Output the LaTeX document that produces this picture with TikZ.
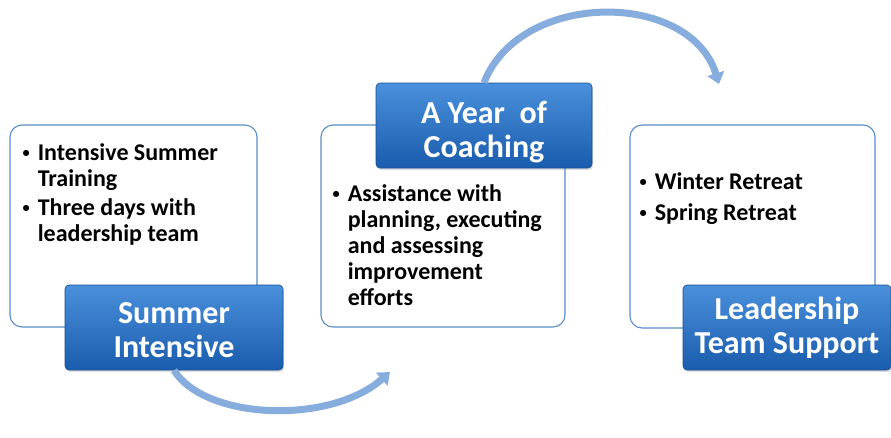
\documentclass[tikz,border=0pt]{standalone}
\usepackage{fontspec}
\setmainfont{Carlito}
\usetikzlibrary{arrows.meta,positioning,shadows}

\definecolor{labeltop}{HTML}{4A90DC}
\definecolor{labelbot}{HTML}{1A5CAD}
\definecolor{boxline}{HTML}{5A8CC8}
\definecolor{arrowblue}{HTML}{86ADDD}

\tikzset{
  infobox/.style={draw=boxline, line width=1.1pt, rounded corners=12pt, fill=white},
  infotext/.style={inner sep=0pt, font=\bfseries\fontsize{24}{26}\selectfont},
  stagelabel/.style={draw=labelbot!85!black, line width=0.6pt, rounded corners=4pt,
    top color=labeltop, bottom color=labelbot, text=white, align=center,
    font=\bfseries\fontsize{32}{34}\selectfont, minimum height=85pt,
    drop shadow={opacity=0.25, shadow xshift=1pt, shadow yshift=-2pt}},
  cyclearrow/.style={draw=arrowblue, line width=7pt, -{Triangle[width=17pt,length=11pt]}}
}

\newcommand{\bul}{\raisebox{3pt}{\scalebox{0.6}{\textbullet}}}
\newcommand{\labelstrut}[1]{\rule{0pt}{#1}}

\begin{document}
\begin{tikzpicture}[x=1pt,y=-1pt]
  \useasboundingbox (0,0) rectangle (891,437);
  % content boxes
  \node[infobox, minimum width=247pt, minimum height=202pt] (summerbox) at (133.5,226) {};
  \node[infobox, minimum width=244pt, minimum height=202pt] (coachbox) at (443,226) {};
  \node[infobox, minimum width=245pt, minimum height=203pt] (teambox) at (752.5,226.5) {};
  % bullet texts
  \node[infotext, below right=18pt and 13pt of summerbox.north west] (summertext) {%
    \begin{tabular}{@{}l@{\hspace{8pt}}l@{}}
      \bul & Intensive Summer\\
           & Training\\[3pt]
      \bul & Three days with\\
           & leadership team
    \end{tabular}};
  \node[infotext, below right=59pt and 12pt of coachbox.north west] (coachtext) {%
    \begin{tabular}{@{}l@{\hspace{8pt}}l@{}}
      \bul & Assistance with\\
           & planning, executing\\
           & and assessing\\
           & improvement\\
           & efforts
    \end{tabular}};
  \node[infotext, below right=47pt and 10pt of teambox.north west] (teamtext) {%
    \begin{tabular}{@{}l@{\hspace{8pt}}l@{}}
      \bul & Winter Retreat\\[5pt]
      \bul & Spring Retreat
    \end{tabular}};
  % stage labels
  \node[stagelabel, minimum width=218pt] (summer) at (174,327.5) {\labelstrut{26.5pt}Summer\\Intensive};
  \node[stagelabel, minimum width=216pt] (coach) at (484,125.5) {\labelstrut{35pt}A Year\ \ of\\Coaching};
  \node[stagelabel, minimum width=208pt] (team) at (787,327.5) {Leadership\\Team Support};
  % arrows between stages
  \coordinate (summerend) at (390,372);
  \coordinate (coachend) at (719,84);
  \draw[cyclearrow] (summer.south) .. controls (205,420) and (330,425) .. (summerend);
  \draw[cyclearrow] (coach.north) .. controls (520,-10) and (690,-10) .. (coachend);
\end{tikzpicture}
\end{document}
